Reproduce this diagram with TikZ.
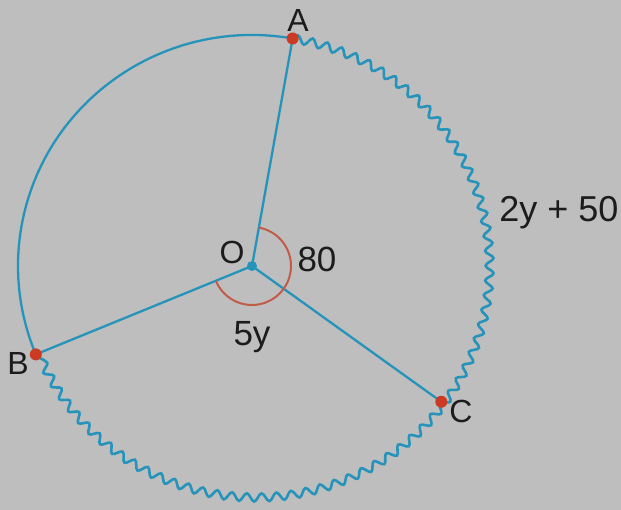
\documentclass[tikz,border=0pt]{standalone}
\usepackage{fontspec}
\setmainfont{Liberation Sans}
\usetikzlibrary{decorations.pathmorphing,calc}
\definecolor{bg}{RGB}{190,190,190}
\definecolor{lineblue}{RGB}{38,148,186}
\definecolor{dotred}{RGB}{204,58,36}
\definecolor{angred}{RGB}{192,92,72}
\definecolor{txt}{RGB}{28,28,28}
\tikzset{
  radius line/.style={draw=lineblue, line width=2.3pt},
  plain arc/.style={draw=lineblue, line width=2.3pt},
  wavy arc/.style={draw=lineblue, line width=2.6pt, decorate,
    decoration={snake, segment length=15pt, amplitude=4pt}},
  angle mark/.style={draw=angred, line width=2pt},
  point dot/.style={circle, fill=dotred, inner sep=0pt, minimum size=12pt},
  centre dot/.style={circle, fill=lineblue, inner sep=0pt, minimum size=10pt},
  lbl/.style={text=txt, inner sep=0pt, anchor=base, font=\fontsize{32}{36}\selectfont},
}
\begin{document}
\begin{tikzpicture}[x=1pt,y=1pt]
\fill[bg] (0,0) rectangle (621,510);
\useasboundingbox (0,0) rectangle (621,510);
\coordinate (O) at (252,244);
\coordinate (A) at ($(O)+(80:234 and 231)$);
\coordinate (B) at ($(O)+(202.5:234 and 231)$);
\coordinate (C) at ($(O)+(-36:234 and 231)$);
% arcs
\draw[plain arc] (A) arc[start angle=80, end angle=202.5, x radius=234, y radius=231];
\draw[wavy arc] (A) arc[start angle=80, end angle=-157.5, x radius=234, y radius=231];
% radii
\draw[radius line] (O) -- (A);
\draw[radius line] (O) -- (B);
\draw[radius line] (O) -- (C);
% angle marks
\draw[angle mark] ($(O)+(80:39)$) arc[start angle=80, end angle=-36, radius=39];
\draw[angle mark] ($(O)+(202.5:39)$) arc[start angle=202.5, end angle=324, radius=39];
% dots
\node[point dot] (Ad) at (A) {};
\node[point dot] (Bd) at (B) {};
\node[point dot] (Cd) at (C) {};
\node[centre dot] (Od) at (O) {};
% labels
\node[lbl] (lA) at (298,478) {A};
\node[lbl] (lB) at (18,135) {B};
\node[lbl] (lC) at (461,87) {C};
\node[lbl] (lO) at (232,246) {O};
\node[lbl, font=\fontsize{35}{40}\selectfont] (l80) at (317,238) {80};
\node[lbl, font=\fontsize{35}{40}\selectfont] (l5y) at (252,164) {5y};
\node[lbl, font=\fontsize{36}{40}\selectfont] (lArc) at (559,288) {2y + 50};
\end{tikzpicture}
\end{document}
